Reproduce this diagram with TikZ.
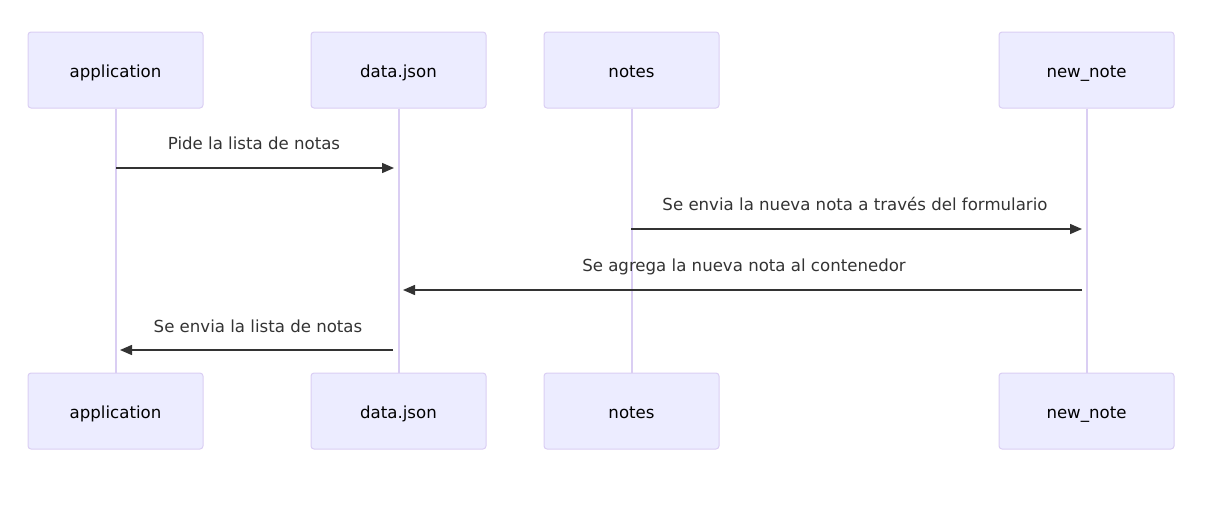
\documentclass[tikz,border=0pt]{standalone}
\usepackage{fontspec}
\setmainfont{DejaVu Sans}
\usetikzlibrary{arrows.meta}
\definecolor{actfill}{HTML}{ECECFF}
\definecolor{actline}{HTML}{DACEF3}
\definecolor{msg}{HTML}{333333}
\begin{document}
\begin{tikzpicture}[x=1pt,y=-1pt,
  actor/.style={draw=actline,fill=actfill,line width=1pt,rounded corners=3pt,minimum width=175pt,minimum height=76pt,inner sep=0pt},
  actlabel/.style={anchor=base,font=\fontsize{16.6}{20}\selectfont,text=black,inner sep=0pt},
  life/.style={draw=actline,line width=2pt},
  msgline/.style={draw=msg,line width=1.5pt,-{Triangle[length=12pt,width=10pt]}},
  msglabel/.style={anchor=base,font=\fontsize{16.6}{20}\selectfont,text=msg,inner sep=0pt}]
\useasboundingbox (0,0) rectangle (1207,512);
\node[actor] (a1) at (115.5,70) {};
\node[actor] (b1) at (398.5,70) {};
\node[actor] (c1) at (631.5,70) {};
\node[actor] (d1) at (1086.5,70) {};
\node[actor] (a2) at (115.5,411) {};
\node[actor] (b2) at (398.5,411) {};
\node[actor] (c2) at (631.5,411) {};
\node[actor] (d2) at (1086.5,411) {};
\node[actlabel] (ta1) at (115.5,77) {application};
\node[actlabel] (tb1) at (398.5,77) {data.json};
\node[actlabel] (tc1) at (631.5,77) {notes};
\node[actlabel] (td1) at (1086.5,77) {new\_note};
\node[actlabel] (ta2) at (115.5,418) {application};
\node[actlabel] (tb2) at (398.5,418) {data.json};
\node[actlabel] (tc2) at (631.5,418) {notes};
\node[actlabel] (td2) at (1086.5,418) {new\_note};
\draw[life] (a1.south) -- (a2.north);
\draw[life] (b1.south) -- (b2.north);
\draw[life] (c1.south) -- (c2.north);
\draw[life] (d1.south) -- (d2.north);
\coordinate (m1s) at (116,168); \coordinate (m1e) at (394,168);
\coordinate (m2s) at (631,229); \coordinate (m2e) at (1082,229);
\coordinate (m3s) at (1082,290); \coordinate (m3e) at (403,290);
\coordinate (m4s) at (393,350); \coordinate (m4e) at (120,350);
\draw[msgline] (m1s) -- (m1e);
\draw[msgline] (m2s) -- (m2e);
\draw[msgline] (m3s) -- (m3e);
\draw[msgline] (m4s) -- (m4e);
\node[msglabel] (l1) at (254,149) {Pide la lista de notas};
\node[msglabel] (l2) at (855,210) {Se envia la nueva nota a través del formulario};
\node[msglabel] (l3) at (744,271) {Se agrega la nueva nota al contenedor};
\node[msglabel] (l4) at (258,332) {Se envia la lista de notas};
\end{tikzpicture}
\end{document}
